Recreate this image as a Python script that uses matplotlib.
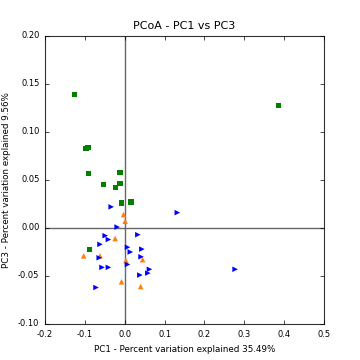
import matplotlib
matplotlib.use("Agg")
from matplotlib import pyplot as plt

plt.style.use("classic")

# PC1 / PC3 coordinates per group
green_x = [-0.125, 0.385, -0.097, -0.092, -0.090, -0.012, -0.054, -0.024, -0.012, -0.009, 0.016, -0.088]
green_y = [0.139, 0.128, 0.083, 0.084, 0.057, 0.058, 0.045, 0.042, 0.046, 0.026, 0.027, -0.022]

orange_x = [-0.003, 0.001, -0.024, -0.103, -0.062, 0.003, 0.045, -0.008, 0.040]
orange_y = [0.014, 0.007, -0.011, -0.029, -0.029, -0.034, -0.033, -0.056, -0.061]

blue_x = [-0.034, 0.132, -0.019, -0.049, -0.041, 0.033, -0.062, 0.007, 0.014, 0.043,
          -0.064, 0.041, 0.007, 0.062, 0.058, 0.038, -0.057, -0.041, -0.072, 0.277]
blue_y = [0.022, 0.016, 0.001, -0.008, -0.012, -0.007, -0.017, -0.020, -0.025, -0.022,
          -0.031, -0.030, -0.038, -0.043, -0.047, -0.049, -0.041, -0.041, -0.062, -0.043]

fig = plt.figure(figsize=(3.6, 3.6), dpi=100, facecolor="white")
ax = fig.add_subplot(111)
fig.subplots_adjust(left=0.125, right=0.9, bottom=0.1, top=0.9)

ax.axhline(0, color="#666666", lw=1, zorder=1)
ax.axvline(0, color="#666666", lw=1, zorder=1)

ax.scatter(green_x, green_y, marker="s", s=14, c="green", edgecolors="none", zorder=3)
ax.scatter(orange_x, orange_y, marker="^", s=16, c="#ff7f0e", edgecolors="none", zorder=3)
ax.scatter(blue_x, blue_y, marker=">", s=16, c="blue", edgecolors="none", zorder=3)

ax.set_xlim(-0.2, 0.5)
ax.set_ylim(-0.10, 0.20)
ax.set_xticks([-0.2, -0.1, 0.0, 0.1, 0.2, 0.3, 0.4, 0.5])
ax.set_yticks([-0.10, -0.05, 0.00, 0.05, 0.10, 0.15, 0.20])
ax.xaxis.set_major_formatter(matplotlib.ticker.FormatStrFormatter("%.1f"))
ax.yaxis.set_major_formatter(matplotlib.ticker.FormatStrFormatter("%.2f"))
ax.tick_params(labelsize=6, length=3)
for sp in ax.spines.values():
    sp.set_color("#333333")
    sp.set_linewidth(0.8)

ax.set_title("PCoA - PC1 vs PC3", fontsize=8)
ax.set_xlabel("PC1 - Percent variation explained 35.49%", fontsize=6.3)
ax.set_ylabel("PC3 - Percent variation explained 9.56%", fontsize=6.3)

fig.savefig("out.png", dpi=100, facecolor="white")
